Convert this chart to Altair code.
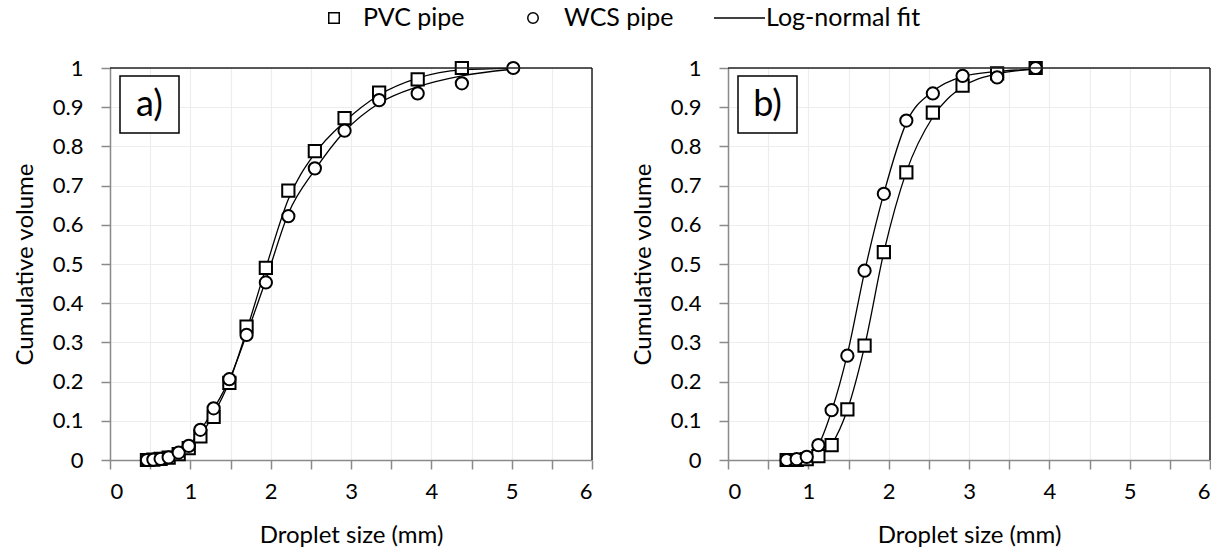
import altair as alt
import pandas as pd

# ---- data ----
sizes_a = [0.46, 0.54, 0.63, 0.73, 0.855, 0.98, 1.125, 1.29, 1.486, 1.70, 1.94, 2.22, 2.55, 2.92, 3.35, 3.83, 4.38, 5.02]
pvc_a = [0.0, 0.001, 0.003, 0.006, 0.015, 0.03, 0.06, 0.11, 0.197, 0.34, 0.49, 0.687, 0.788, 0.872, 0.937, 0.971, 1.0]
wcs_a = [0.0, 0.001, 0.003, 0.007, 0.019, 0.036, 0.077, 0.132, 0.206, 0.319, 0.453, 0.622, 0.744, 0.84, 0.918, 0.935, 0.961, 1.0]
fit_pvc_a = [0.0, 0.0, 0.002, 0.006, 0.015, 0.032, 0.063, 0.117, 0.2, 0.33, 0.49, 0.665, 0.782, 0.863, 0.931, 0.974, 0.995, 0.999]
fit_wcs_a = [0.0, 0.001, 0.003, 0.007, 0.018, 0.037, 0.075, 0.13, 0.205, 0.32, 0.459, 0.629, 0.74, 0.838, 0.91, 0.952, 0.98, 0.997]

sizes_b = [0.73, 0.855, 0.98, 1.125, 1.29, 1.486, 1.70, 1.94, 2.22, 2.55, 2.92, 3.35, 3.83]
pvc_b = [0.0, 0.0, 0.002, 0.01, 0.038, 0.129, 0.292, 0.53, 0.734, 0.886, 0.955, 0.986, 1.0]
wcs_b = [0.0, 0.002, 0.008, 0.038, 0.127, 0.266, 0.483, 0.679, 0.866, 0.935, 0.98, 0.976, 1.0]
fit_pvc_b = [0.0, 0.0, 0.002, 0.01, 0.04, 0.128, 0.29, 0.53, 0.735, 0.875, 0.952, 0.985, 0.997]
fit_wcs_b = [0.0, 0.002, 0.009, 0.038, 0.125, 0.27, 0.48, 0.68, 0.86, 0.94, 0.978, 0.991, 0.997]

x_ticks = [0, 0.5, 1, 1.5, 2, 2.5, 3, 3.5, 4, 4.5, 5, 5.5, 6]
y_ticks = [0, 0.1, 0.2, 0.3, 0.4, 0.5, 0.6, 0.7, 0.8, 0.9, 1.0]

FONT = "Lato"
W, H = 482, 392


def make_df(xs, ys, series):
    return pd.DataFrame({"size": xs[:len(ys)], "cum": ys, "series": series})


def panel(label, sizes, pvc, wcs, fpvc, fwcs, legend=False):
    xs = alt.Scale(domain=[0, 6], nice=False, zero=False)
    ys = alt.Scale(domain=[0, 1], nice=False)
    xaxis = alt.Axis(values=x_ticks, labelExpr="datum.value % 1 === 0 ? datum.label : ''",
                     grid=True, gridColor="#ededed", gridWidth=1.2,
                     domainColor="#8a8a8a", domainWidth=1.5, tickColor="#8a8a8a", tickWidth=1.5,
                     tickSize=9, labelFont=FONT, labelFontSize=22, labelColor="black",
                     labelPadding=12, title="Droplet size (mm)", titleFont=FONT, titleFontSize=24,
                     titleFontWeight="normal", titleColor="black", titlePadding=21, format="~g")
    yaxis = alt.Axis(values=y_ticks, format=".1~f",
                     grid=True, gridColor="#ededed", gridWidth=1.2,
                     domainColor="#8a8a8a", domainWidth=1.5, tickColor="#8a8a8a", tickWidth=1.5,
                     tickSize=9, labelFont=FONT, labelFontSize=22, labelColor="black",
                     labelPadding=18, title="Cumulative volume", titleFont=FONT, titleFontSize=24,
                     titleFontWeight="normal", titleColor="black", titlePadding=15)

    fit_df = pd.concat([make_df(sizes, fpvc, "PVC fit"), make_df(sizes, fwcs, "WCS fit")])
    enc_x = alt.X("size:Q", scale=xs, axis=xaxis)
    enc_y = alt.Y("cum:Q", scale=ys, axis=yaxis)

    lines = alt.Chart(fit_df).mark_line(color="black", strokeWidth=1.3, interpolate="monotone").encode(
        x=enc_x, y=enc_y, detail="series:N")
    sq = alt.Chart(make_df(sizes, pvc, "PVC")).mark_point(
        shape="square", filled=True, fill="white", stroke="black", strokeWidth=2, size=150, opacity=1
    ).encode(x=enc_x, y=enc_y)
    ci = alt.Chart(make_df(sizes, wcs, "WCS")).mark_point(
        shape="circle", filled=True, fill="white", stroke="black", strokeWidth=2, size=150, opacity=1
    ).encode(x=enc_x, y=enc_y)

    one = alt.Data(values=[{}])
    top_rule = alt.Chart(one).mark_rule(color="#222", strokeWidth=1.5).encode(
        x=alt.value(0), x2=alt.value(W), y=alt.value(0))
    right_rule = alt.Chart(one).mark_rule(color="#222", strokeWidth=1.5).encode(
        x=alt.value(W), y=alt.value(0), y2=alt.value(H))
    box = alt.Chart(one).mark_rect(fill="white", stroke="black", strokeWidth=1.5).encode(
        x=alt.value(10), x2=alt.value(69), y=alt.value(8), y2=alt.value(65))
    box_txt = alt.Chart(one).mark_text(font=FONT, fontSize=36, color="black", align="center",
                                       baseline="middle").encode(
        x=alt.value(39.5), y=alt.value(37), text=alt.value(label))

    layers = [lines, sq, ci, top_rule, right_rule, box, box_txt]

    if legend:
        ly = -50
        leg_sq = alt.Chart(one).mark_point(shape="square", filled=True, fill="white", stroke="black",
                                           strokeWidth=1.5, size=110, opacity=1).encode(
            x=alt.value(224), y=alt.value(ly))
        leg_ci = alt.Chart(one).mark_point(shape="circle", filled=True, fill="white", stroke="black",
                                           strokeWidth=1.5, size=110, opacity=1).encode(
            x=alt.value(423), y=alt.value(ly))
        leg_ln = alt.Chart(one).mark_rule(color="black", strokeWidth=1.3).encode(
            x=alt.value(604), x2=alt.value(655), y=alt.value(ly))
        def t(x, s):
            return alt.Chart(one).mark_text(font=FONT, fontSize=25, color="black", align="left",
                                            baseline="middle").encode(
                x=alt.value(x), y=alt.value(ly), text=alt.value(s))
        layers += [leg_sq, leg_ci, leg_ln, t(253, "PVC pipe"), t(454, "WCS pipe"), t(656, "Log-normal fit")]

    return alt.layer(*layers).properties(width=W, height=H)


pa = panel("a)", sizes_a, pvc_a, wcs_a, fit_pvc_a, fit_wcs_a, legend=True)
pb = panel("b)", sizes_b, pvc_b, wcs_b, fit_pvc_b, fit_wcs_b)

chart = alt.hconcat(pa, pb, spacing=136, bounds="flush").configure_view(stroke=None).properties(
    padding={"left": 13, "top": 6, "right": 0, "bottom": 2}, background="white")

chart.save("out.html", embed_options={"renderer": "svg", "actions": False})
